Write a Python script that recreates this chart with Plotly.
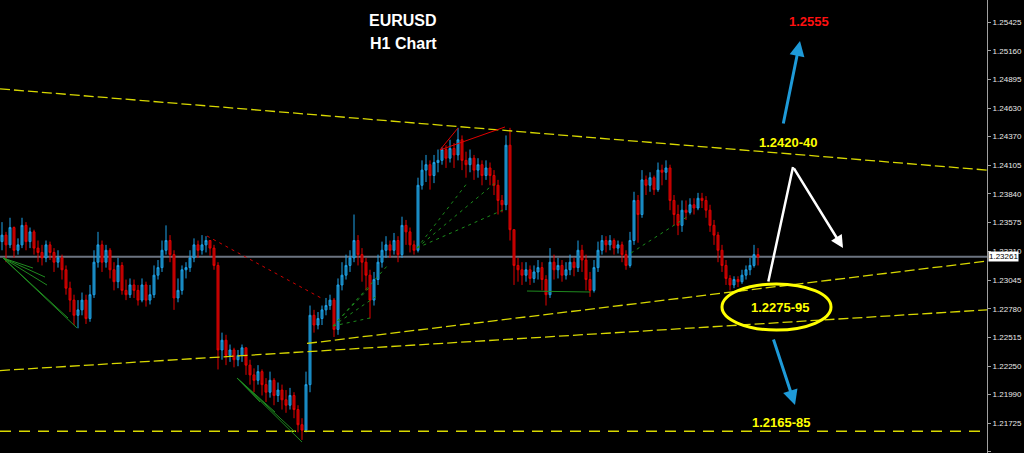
import plotly.graph_objects as go

# ---------------- data (EURUSD H1) ----------------
first_open = 1.2340
close = [
    1.2346, 1.2337, 1.2353, 1.2332, 1.2337, 1.2355, 1.2340, 1.2349, 1.2334, 1.2330,
    1.2325, 1.2337, 1.2330, 1.2321, 1.2325, 1.2314, 1.2297, 1.2286, 1.2272, 1.2277,
    1.2286, 1.2269, 1.2291, 1.2321, 1.2337, 1.2321, 1.2332, 1.2314, 1.2303, 1.2318,
    1.2295, 1.2291, 1.2300, 1.2295, 1.2286, 1.2300, 1.2286, 1.2291, 1.2309, 1.2316,
    1.2332, 1.2341, 1.2328, 1.2288, 1.2295, 1.2314, 1.2316, 1.2325, 1.2337, 1.2332,
    1.2337, 1.2341, 1.2334, 1.2318, 1.2240, 1.2249, 1.2235, 1.2240, 1.2231, 1.2235,
    1.2242, 1.2226, 1.2217, 1.2212, 1.2220, 1.2208, 1.2201, 1.2212, 1.2198, 1.2203,
    1.2194, 1.2189, 1.2198, 1.2185, 1.2171, 1.2166, 1.2208, 1.2272, 1.2263, 1.2269,
    1.2277, 1.2281, 1.2286, 1.2259, 1.2300, 1.2309, 1.2318, 1.2325, 1.2341, 1.2328,
    1.2321, 1.2309, 1.2286, 1.2305, 1.2321, 1.2332, 1.2337, 1.2332, 1.2341, 1.2328,
    1.2355, 1.2349, 1.2337, 1.2332, 1.2392, 1.2406, 1.2411, 1.2401, 1.2413, 1.2415,
    1.2425, 1.2417, 1.2426, 1.2420, 1.2434, 1.2415, 1.2411, 1.2417, 1.2406, 1.2411,
    1.2401, 1.2408, 1.2401, 1.2392, 1.2378, 1.2374, 1.2429, 1.2351, 1.2318, 1.2314,
    1.2309, 1.2314, 1.2306, 1.2312, 1.2316, 1.2305, 1.2291, 1.2321, 1.2314, 1.2318,
    1.2309, 1.2314, 1.2321, 1.2316, 1.2332, 1.2323, 1.2305, 1.2295, 1.2316, 1.2332,
    1.2341, 1.2337, 1.2341, 1.2334, 1.2337, 1.2328, 1.2318, 1.2341, 1.2378, 1.2365,
    1.2397, 1.2392, 1.2399, 1.2388, 1.2406, 1.2404, 1.2408, 1.2378, 1.2365, 1.2355,
    1.2369, 1.2367, 1.2374, 1.2371, 1.2380, 1.2378, 1.2369, 1.2355, 1.2346, 1.2332,
    1.2318, 1.2306, 1.2300, 1.2305, 1.2303, 1.2309, 1.2314, 1.2318, 1.2328, 1.23261,
]
high = [
    1.2358, 1.2349, 1.2362, 1.2354, 1.2343, 1.2362, 1.2358, 1.2353, 1.2351, 1.2341,
    1.2337, 1.2341, 1.2340, 1.2334, 1.2332, 1.2328, 1.2318, 1.2303, 1.2291, 1.2286,
    1.2293, 1.2291, 1.2300, 1.2332, 1.2349, 1.2341, 1.2337, 1.2334, 1.2321, 1.2325,
    1.2321, 1.2305, 1.2306, 1.2305, 1.2300, 1.2306, 1.2303, 1.2300, 1.2318, 1.2323,
    1.2341, 1.2355, 1.2346, 1.2332, 1.2306, 1.2318, 1.2321, 1.2332, 1.2343, 1.2341,
    1.2346, 1.2345, 1.2341, 1.2337, 1.2321, 1.2256, 1.2254, 1.2245, 1.2242, 1.2240,
    1.2245, 1.2242, 1.2231, 1.2223, 1.2226, 1.2222, 1.2214, 1.2220, 1.2214, 1.2210,
    1.2208, 1.2203, 1.2205, 1.2201, 1.2189, 1.2177, 1.2220, 1.2281, 1.2277, 1.2275,
    1.2281, 1.2288, 1.2291, 1.2288, 1.2306, 1.2321, 1.2328, 1.2332, 1.2365, 1.2346,
    1.2334, 1.2325, 1.2314, 1.2312, 1.2328, 1.2340, 1.2345, 1.2341, 1.2348, 1.2345,
    1.2363, 1.2360, 1.2353, 1.2341, 1.2399, 1.2415, 1.2420, 1.2415, 1.2420, 1.2425,
    1.2427, 1.2429, 1.2434, 1.2431, 1.2445, 1.2438, 1.2423, 1.2425, 1.2420, 1.2417,
    1.2415, 1.2415, 1.2413, 1.2406, 1.2397, 1.2383, 1.2438, 1.2445, 1.2351, 1.2325,
    1.2321, 1.2321, 1.2318, 1.2318, 1.2323, 1.2321, 1.2309, 1.2334, 1.2328, 1.2325,
    1.2323, 1.2321, 1.2328, 1.2325, 1.2341, 1.2337, 1.2328, 1.2312, 1.2323, 1.2340,
    1.2346, 1.2345, 1.2346, 1.2343, 1.2341, 1.2340, 1.2332, 1.2349, 1.2386, 1.2383,
    1.2406, 1.2401, 1.2404, 1.2401, 1.2413, 1.2411, 1.2415, 1.2411, 1.2383, 1.2374,
    1.2378, 1.2378, 1.2380, 1.2380, 1.2385, 1.2385, 1.2382, 1.2374, 1.2360, 1.2349,
    1.2337, 1.2323, 1.2309, 1.2308, 1.2308, 1.2314, 1.2318, 1.2325, 1.2337, 1.2334,
]
low = [
    1.2332, 1.2321, 1.2334, 1.2325, 1.2328, 1.2334, 1.2332, 1.2334, 1.2328, 1.2321,
    1.2318, 1.2321, 1.2323, 1.2312, 1.2316, 1.2305, 1.2291, 1.2275, 1.2263, 1.2260,
    1.2272, 1.2264, 1.2266, 1.2288, 1.2316, 1.2312, 1.2316, 1.2306, 1.2295, 1.2297,
    1.2291, 1.2286, 1.2288, 1.2288, 1.2281, 1.2284, 1.2280, 1.2282, 1.2288, 1.2305,
    1.2312, 1.2328, 1.2321, 1.2277, 1.2284, 1.2291, 1.2306, 1.2312, 1.2321, 1.2325,
    1.2328, 1.2330, 1.2327, 1.2314, 1.2222, 1.2231, 1.2226, 1.2229, 1.2224, 1.2225,
    1.2229, 1.2217, 1.2208, 1.2201, 1.2208, 1.2198, 1.2192, 1.2196, 1.2189, 1.2192,
    1.2185, 1.2182, 1.2185, 1.2177, 1.2164, 1.2157, 1.2164, 1.2201, 1.2256, 1.2259,
    1.2263, 1.2272, 1.2277, 1.2252, 1.2254, 1.2295, 1.2305, 1.2312, 1.2321, 1.2318,
    1.2303, 1.2295, 1.2269, 1.2281, 1.2300, 1.2316, 1.2325, 1.2325, 1.2328, 1.2321,
    1.2325, 1.2337, 1.2330, 1.2328, 1.2330, 1.2388, 1.2395, 1.2388, 1.2394, 1.2404,
    1.2411, 1.2408, 1.2413, 1.2408, 1.2415, 1.2406, 1.2399, 1.2404, 1.2397, 1.2399,
    1.2392, 1.2397, 1.2392, 1.2383, 1.2365, 1.2367, 1.2369, 1.2341, 1.2300, 1.2303,
    1.2300, 1.2303, 1.2300, 1.2302, 1.2305, 1.2295, 1.2281, 1.2288, 1.2305, 1.2306,
    1.2303, 1.2305, 1.2309, 1.2308, 1.2312, 1.2312, 1.2295, 1.2289, 1.2293, 1.2312,
    1.2328, 1.2330, 1.2332, 1.2328, 1.2329, 1.2321, 1.2314, 1.2316, 1.2337, 1.2339,
    1.2362, 1.2383, 1.2386, 1.2383, 1.2386, 1.2392, 1.2397, 1.2369, 1.2355, 1.2346,
    1.2349, 1.2360, 1.2365, 1.2365, 1.2369, 1.2371, 1.2362, 1.2349, 1.2337, 1.2321,
    1.2312, 1.2300, 1.2295, 1.2297, 1.2298, 1.2301, 1.2305, 1.2309, 1.2316, 1.2318,
]
y_ticks = [1.25425, 1.25160, 1.24895, 1.24630, 1.24370, 1.24105, 1.23840, 1.23575,
           1.23310, 1.23045, 1.22780, 1.22515, 1.22250, 1.21990, 1.21725, 1.21460]

# trend lines: (bar0, price0, bar1, price1)
channel_lines = [
    (-0.5, 1.2481, 246.25, 1.2406),
    (76.25, 1.2246, 246.25, 1.2322),
    (-0.5, 1.2221, 246.25, 1.2277),
]
target_level = 1.2165
green_fans = [
    (0.25, 1.23249, 7.75, 1.23156), (0.25, 1.23249, 10.75, 1.23073),
    (0.25, 1.23249, 11.25, 1.22999), (0.25, 1.23249, 16.5, 1.22695),
    (0.25, 1.23249, 18.75, 1.22603),
    (58.75, 1.22141, 64.5, 1.21920), (58.75, 1.22141, 68.25, 1.21827),
    (58.75, 1.22141, 73.25, 1.21643), (58.75, 1.22141, 75.0, 1.21550),
    (131.25, 1.22944, 147.0, 1.22935),
]
green_dotted = [
    (82.75, 1.22621, 96.5, 1.23184), (82.75, 1.22621, 92.0, 1.22981),
    (82.75, 1.22621, 94.0, 1.22907), (82.75, 1.22621, 92.0, 1.22695),
    (103.75, 1.23341, 116.5, 1.23950), (103.75, 1.23341, 123.25, 1.23941),
    (103.75, 1.23341, 125.25, 1.23692),
    (157.25, 1.23295, 172.0, 1.23646),
]
red_dotted = [(51.25, 1.23452, 80.25, 1.22870)]
red_solid = [(109.5, 1.24246, 114.0, 1.24449), (109.5, 1.24246, 125.75, 1.24458)]

bars = list(range(len(close)))
opens = [first_open] + close[:-1]
high = [max(h, o, c) for h, o, c in zip(high, opens, close)]
low = [min(l, o, c) for l, o, c in zip(low, opens, close)]
last_price = close[-1]

fig = go.Figure(go.Candlestick(
    x=bars, open=opens, high=high, low=low, close=close,
    increasing=dict(line=dict(color="#1ea2e8", width=1), fillcolor="#16729c"),
    decreasing=dict(line=dict(color="#e30000", width=1), fillcolor="#a30000"),
    whiskerwidth=0, hoverinfo="skip", showlegend=False,
))

shapes = []
for x0, y0, x1, y1 in channel_lines:
    shapes.append(dict(type="line", xref="x", yref="y", x0=x0, y0=y0, x1=x1, y1=y1,
                       line=dict(color="#d8d800", width=1.3, dash="10px,4px")))
shapes.append(dict(type="line", xref="paper", yref="y", x0=0, x1=1, y0=target_level, y1=target_level,
                   line=dict(color="#d8d800", width=1.5, dash="11px,8px")))
for x0, y0, x1, y1 in green_fans:
    shapes.append(dict(type="line", xref="x", yref="y", x0=x0, y0=y0, x1=x1, y1=y1,
                       line=dict(color="#1f8a1f", width=1)))
for x0, y0, x1, y1 in green_dotted:
    shapes.append(dict(type="line", xref="x", yref="y", x0=x0, y0=y0, x1=x1, y1=y1,
                       line=dict(color="#1c8c1c", width=1, dash="3px,4px")))
for x0, y0, x1, y1 in red_dotted:
    shapes.append(dict(type="line", xref="x", yref="y", x0=x0, y0=y0, x1=x1, y1=y1,
                       line=dict(color="#d00000", width=1, dash="3px,4px")))
for x0, y0, x1, y1 in red_solid:
    shapes.append(dict(type="line", xref="x", yref="y", x0=x0, y0=y0, x1=x1, y1=y1,
                       line=dict(color="#e00000", width=1)))
# current price line
shapes.append(dict(type="line", xref="paper", yref="y", x0=0, x1=1, y0=last_price, y1=last_price,
                   line=dict(color="#6b7380", width=2), layer="below"))
# ellipse around support zone
shapes.append(dict(type="circle", xref="x", yref="y", x0=180.0, x1=207.25, y0=1.22584, y1=1.23009,
                   line=dict(color="#ffff00", width=3)))

bold = "Liberation Sans"
annotations = [
    dict(x=100.25, y=1.25445, text="<b>EURUSD</b>", font=dict(color="white", size=16, family=bold)),
    dict(x=100.25, y=1.25233, text="<b>H1 Chart</b>", font=dict(color="white", size=16, family=bold)),
    dict(x=201.75, y=1.25436, text="<b>1.2555</b>", font=dict(color="#ff1010", size=13, family=bold)),
    dict(x=196.5, y=1.24319, text="<b>1.2420-40</b>", font=dict(color="#ffff00", size=13, family=bold)),
    dict(x=194.5, y=1.22796, text="<b>1.2275-95</b>", font=dict(color="#ffff00", size=13, family=bold)),
    dict(x=194.75, y=1.21726, text="<b>1.2165-85</b>", font=dict(color="#ffff00", size=13, family=bold)),
]
for a in annotations:
    a.update(xref="x", yref="y", showarrow=False)

arrows = [
    # (head_bar, head_price, tail_bar, tail_price, color, head)
    (199.5, 1.25252, 195.25, 1.24476, "#1e9ad8", 2),
    (198.25, 1.21892, 192.75, 1.22510, "#1e9ad8", 2),
    (197.75, 1.24089, 191.5, 1.23018, "white", 0),
    (210.25, 1.23341, 197.75, 1.24089, "white", 2),
]
for hx, hy, tx, ty, col, head in arrows:
    annotations.append(dict(x=hx, y=hy, ax=tx, ay=ty, xref="x", yref="y", axref="x", ayref="y",
                            text="", showarrow=True, arrowhead=head, arrowsize=1,
                            arrowwidth=3 if col != "white" else 2.5, arrowcolor=col))
annotations.append(dict(x=1, y=last_price, xref="paper", yref="y", xanchor="left", yanchor="middle",
                        xshift=1, text="%.5f" % last_price, showarrow=False, bgcolor="white",
                        borderpad=0, font=dict(color="black", size=8, family="Liberation Sans")))

fig.update_layout(
    width=1024, height=453,
    margin=dict(l=0, r=37, t=0, b=0),
    paper_bgcolor="black", plot_bgcolor="black",
    shapes=shapes, annotations=annotations,
    xaxis=dict(visible=False, range=[-0.5, 246.25], rangeslider=dict(visible=False), fixedrange=True),
    yaxis=dict(side="right", range=[1.21449, 1.2563], tickvals=y_ticks,
               ticktext=["%.5f" % v for v in y_ticks], ticks="outside", ticklen=3,
               tickcolor="#a0a0a0", showline=True, linecolor="#a0a0a0", linewidth=1,
               showgrid=False, zeroline=False, fixedrange=True,
               tickfont=dict(color="#e8e8e8", size=8, family="Liberation Sans")),
    hovermode=False,
)

fig.write_html("out.html", config={"displayModeBar": False},
               post_script="document.body.style.margin='0';")
